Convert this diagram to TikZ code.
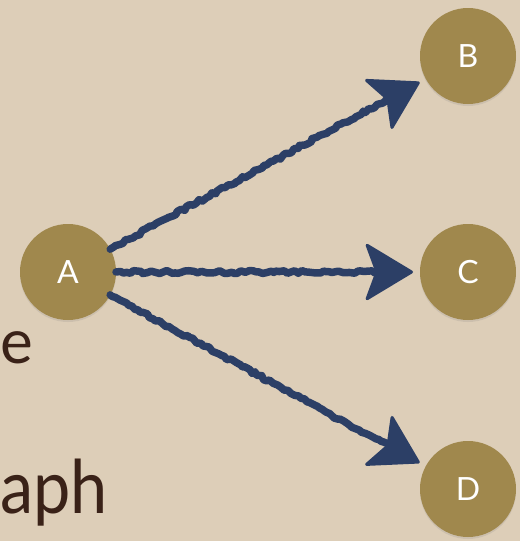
\documentclass[tikz,border=0pt]{standalone}
\usepackage{fontspec}
\setmainfont{Lato}
\usetikzlibrary{arrows.meta,decorations.pathmorphing,shadows,calc}
\definecolor{parchment}{RGB}{221,206,184}
\definecolor{olivegold}{RGB}{160,136,77}
\definecolor{ink}{RGB}{44,63,102}
\definecolor{darkbrown}{RGB}{58,34,24}
\begin{document}
\begin{tikzpicture}[x=1pt,y=-1pt,
  vertex/.style={circle,fill=olivegold,minimum size=96pt,inner sep=0pt,outer sep=0pt,
    text=white,font=\fontsize{32}{32}\selectfont,
    drop shadow={opacity=0.18,shadow xshift=0pt,shadow yshift=-2pt}},
  % rough hand-drawn shaft
  shaft/.style={draw=ink,line width=7.5pt,line cap=round,line join=round,
    decorate,decoration={random steps,segment length=3.5pt,amplitude=1.5pt}},
  % filled arrowhead at the end of a short straight stub
  head/.style={draw=ink,line width=3pt,line join=round,
    -{Stealth[length=50pt,width=60pt,inset=11pt,round]},shorten >=7pt},
  caption/.style={text=darkbrown,inner sep=0pt}]
  % page and clipping frame
  \fill[parchment] (0,0) rectangle (520,541);
  \useasboundingbox (0,0) rectangle (520,541);
  \clip (0,0) rectangle (520,541);

  % word endings on the left
  \node[caption,anchor=base west,font=\fontsize{62}{62}\selectfont] (w1) at (0,363) {e};
  \node[caption,anchor=base west,font=\fontsize{74}{74}\selectfont,
        xscale=0.9,transform shape] (w2) at (0,513) {aph};

  % vertices
  \node[vertex] (A) at (68,272) {A};
  \node[vertex] (B) at (468,56) {B};
  \node[vertex] (C) at (468,272) {C};
  \node[vertex] (D) at (468,489) {D};

  % edges
  \foreach \t in {B,C,D}{
    \draw[shaft] (A) -- ($(\t)!88pt!(A)$);
    \draw[head] ($(\t)!96pt!(A)$) -- (\t);
  }
\end{tikzpicture}
\end{document}
